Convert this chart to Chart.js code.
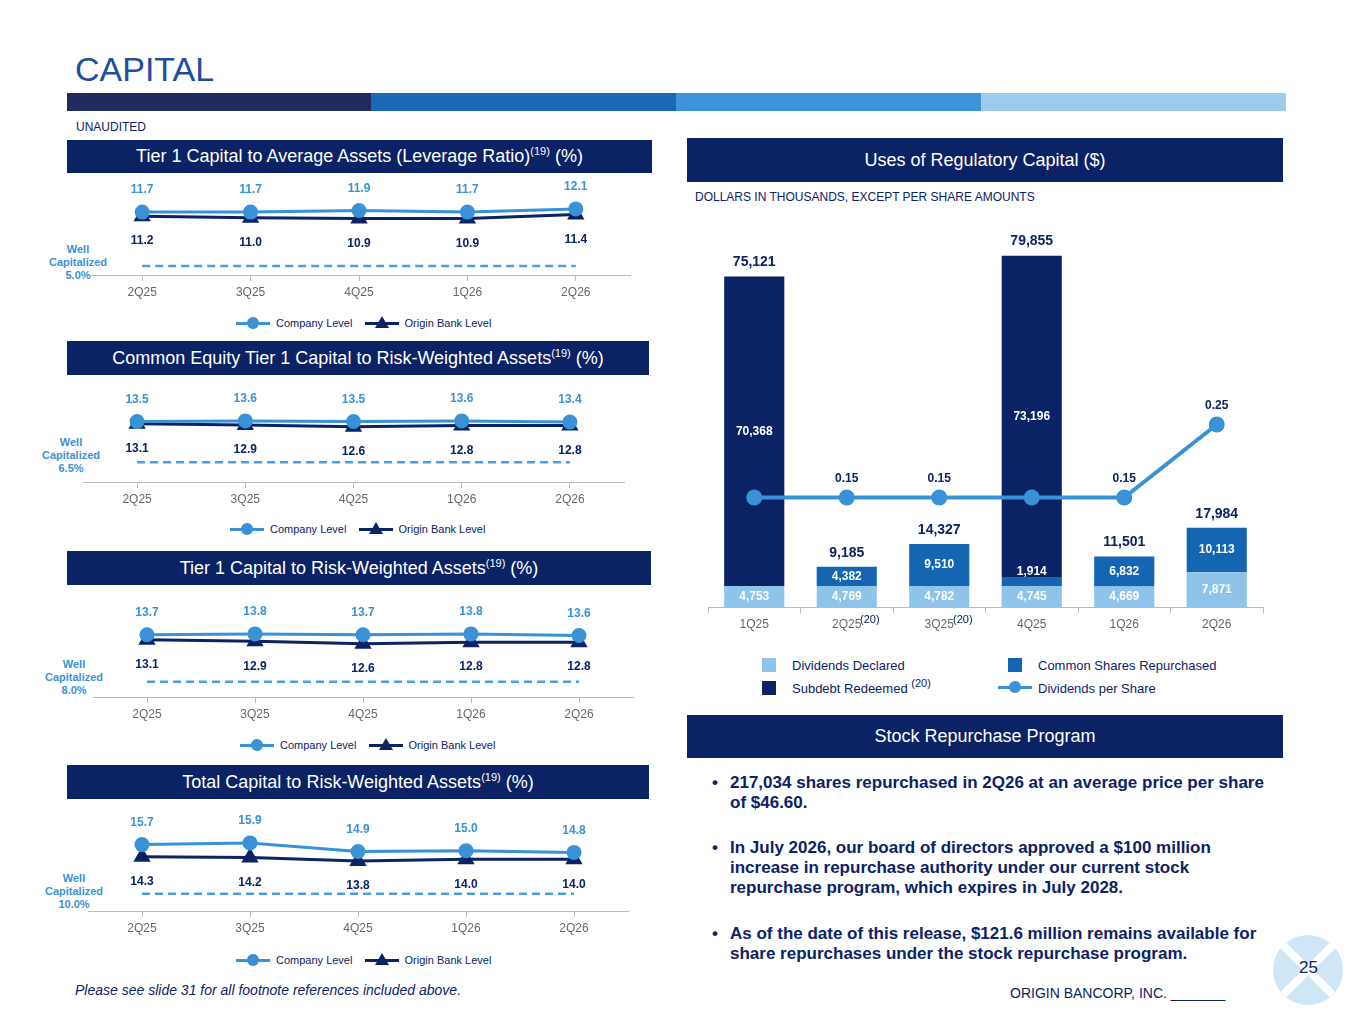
<!DOCTYPE html>
<html><head><meta charset="utf-8">
<script src="https://cdn.jsdelivr.net/npm/chart.js@4/dist/chart.umd.min.js"></script>
<style>
body{margin:0;width:1365px;height:1024px;position:relative;background:#fff;font-family:Arial,"Liberation Sans",sans-serif;overflow:hidden}
.a{position:absolute}
.hdr{position:absolute;background:#0b2265;color:#fff;font-size:18px;display:flex;align-items:center;justify-content:center}
.hdr sup{font-size:11px;vertical-align:super;line-height:0}
.wc{position:absolute;color:#3a92d6;font-weight:bold;font-size:11px;text-align:center;width:70px;line-height:13px}
.leg{position:absolute;font-size:11px;color:#0b2265;display:flex;align-items:center;gap:6px}
.lm{display:inline-block;position:relative;width:34px;height:12px}
.lm:before{content:"";position:absolute;left:0;right:0;top:5px;height:3px;background:var(--c)}
.dot{position:absolute;left:11px;top:0;width:12px;height:12px;border-radius:50%;background:#3a92d6}
.tri{position:absolute;left:10px;top:-1px;width:0;height:0;border-left:7px solid transparent;border-right:7px solid transparent;border-bottom:12px solid #0b2265}
.bul{position:absolute;left:712px;width:620px;color:#0b2265;font-weight:bold;font-size:17px;line-height:20px;white-space:nowrap}
.bul span{position:absolute;left:0}
.bul div{margin-left:18px}
canvas{position:absolute}
</style></head><body>
<div class="a" style="left:75px;top:50px;font-size:34px;color:#1d4f9c">CAPITAL</div>
<div class="a" style="left:67px;top:93px;width:304px;height:18px;background:#232a5e"></div>
<div class="a" style="left:371px;top:93px;width:305px;height:18px;background:#1a69b4"></div>
<div class="a" style="left:676px;top:93px;width:305px;height:18px;background:#3d94d8"></div>
<div class="a" style="left:981px;top:93px;width:305px;height:18px;background:#9ccbec"></div>
<div class="a" style="left:76px;top:120px;font-size:12px;color:#0b2265">UNAUDITED</div>

<div class="hdr" style="left:67px;top:140px;width:585px;height:33px"><span>Tier 1 Capital to Average Assets (Leverage Ratio)<sup>(19)</sup> (%)</span></div>
<div class="hdr" style="left:67px;top:341px;width:582px;height:34px"><span>Common Equity Tier 1 Capital to Risk-Weighted Assets<sup>(19)</sup> (%)</span></div>
<div class="hdr" style="left:67px;top:551px;width:584px;height:34px"><span>Tier 1 Capital to Risk-Weighted Assets<sup>(19)</sup> (%)</span></div>
<div class="hdr" style="left:67px;top:765px;width:582px;height:34px"><span>Total Capital to Risk-Weighted Assets<sup>(19)</sup> (%)</span></div>
<div class="hdr" style="left:687px;top:138px;width:596px;height:44px">Uses of Regulatory Capital ($)</div>
<div class="hdr" style="left:687px;top:715px;width:596px;height:43px">Stock Repurchase Program</div>
<div class="a" style="left:695px;top:190px;font-size:12px;color:#0b2265">DOLLARS IN THOUSANDS, EXCEPT PER SHARE AMOUNTS</div>

<div class="wc" style="left:43px;top:243px">Well<br>Capitalized<br>5.0%</div>
<div class="wc" style="left:36px;top:436px">Well<br>Capitalized<br>6.5%</div>
<div class="wc" style="left:39px;top:658px">Well<br>Capitalized<br>8.0%</div>
<div class="wc" style="left:39px;top:872px">Well<br>Capitalized<br>10.0%</div>

<canvas id="c1"></canvas><canvas id="c2"></canvas><canvas id="c3"></canvas><canvas id="c4"></canvas><canvas id="cb"></canvas>

<div id="legs"></div>
<div class="a" style="left:860px;top:613px;font-size:11px;color:#0b2265">(20)</div>
<div class="a" style="left:953px;top:613px;font-size:11px;color:#0b2265">(20)</div>

<div class="a" style="left:762px;top:658px;width:14px;height:14px;background:#8fc4ea"></div>
<div class="a" style="left:792px;top:658px;font-size:13px;color:#0b2265">Dividends Declared</div>
<div class="a" style="left:762px;top:681px;width:14px;height:14px;background:#0b2265"></div>
<div class="a" style="left:792px;top:681px;font-size:13px;color:#0b2265">Subdebt Redeemed <span style="font-size:11px;position:relative;top:-6px">(20)</span></div>
<div class="a" style="left:1008px;top:658px;width:14px;height:14px;background:#1466b3"></div>
<div class="a" style="left:1038px;top:658px;font-size:13px;color:#0b2265">Common Shares Repurchased</div>
<div class="a" style="left:998px;top:686px;width:34px;height:3px;background:#3a92d6"></div>
<div class="a" style="left:1009px;top:681px;width:12px;height:12px;border-radius:50%;background:#3a92d6"></div>
<div class="a" style="left:1038px;top:681px;font-size:13px;color:#0b2265">Dividends per Share</div>

<div class="bul" style="top:773px"><span>•</span><div>217,034 shares repurchased in 2Q26 at an average price per share<br>of $46.60.</div></div>
<div class="bul" style="top:838px"><span>•</span><div>In July 2026, our board of directors approved a $100 million<br>increase in repurchase authority under our current stock<br>repurchase program, which expires in July 2028.</div></div>
<div class="bul" style="top:924px"><span>•</span><div>As of the date of this release, $121.6 million remains available for<br>share repurchases under the stock repurchase program.</div></div>

<div class="a" style="left:75px;top:982px;font-size:14px;font-style:italic;color:#0b2265">Please see slide 31 for all footnote references included above.</div>
<div class="a" style="left:1010px;top:985px;font-size:14px;color:#0b2265">ORIGIN BANCORP, INC. _______</div>
<div class="a" style="left:1273px;top:935px;width:70px;height:70px;border-radius:50%;background:#cfe6f6;overflow:hidden">
  <div class="a" style="left:-5px;top:31px;width:80px;height:8px;background:#fff;transform:rotate(45deg)"></div>
  <div class="a" style="left:-5px;top:31px;width:80px;height:8px;background:#fff;transform:rotate(-45deg)"></div>
</div>
<div class="a" style="left:1299px;top:958px;font-size:17px;color:#0b2265">25</div>

<script>
const quarters = ["2Q25","3Q25","4Q25","1Q26","2Q26"];
const lev_company = [11.7,11.7,11.9,11.7,12.1];
const lev_bank    = [11.2,11.0,10.9,10.9,11.4];
const cet1_company = [13.5,13.6,13.5,13.6,13.4];
const cet1_bank    = [13.1,12.9,12.6,12.8,12.8];
const t1_company = [13.7,13.8,13.7,13.8,13.6];
const t1_bank    = [13.1,12.9,12.6,12.8,12.8];
const tot_company = [15.7,15.9,14.9,15.0,14.8];
const tot_bank    = [14.3,14.2,13.8,14.0,14.0];
const wellCap = [5.0,6.5,8.0,10.0];

const barQuarters = ["1Q25","2Q25","3Q25","4Q25","1Q26","2Q26"];
const dividendsDeclared = [4753,4769,4782,4745,4669,7871];
const sharesRepurchased = [0,4382,9510,1914,6832,10113];
const subdebtRedeemed = [70368,0,0,73196,0,0];
const totals = [75121,9185,14327,79855,11501,17984];
const dps = [0.15,0.15,0.15,0.15,0.15,0.25];

const LB="#3a92d6", NV="#0b2265";
const fmt = v=>v.toLocaleString('en-US');

function lineChart(id, comp, bank, wc, p){
  const c=document.getElementById(id);
  const h=p.axis-p.top+26;
  c.style.left=p.l+'px'; c.style.top=p.top+'px';
  c.width=p.w; c.height=h; c.style.width=p.w+'px'; c.style.height=h+'px';
  const min = wc-(p.axis-p.dash)/p.ppu, max=min+(p.axis-p.top)/p.ppu;
  new Chart(c,{type:'line',data:{labels:quarters,datasets:[
    {data:comp,borderColor:LB,backgroundColor:LB,borderWidth:3,pointRadius:6,pointHoverRadius:6,lbl:'above'},
    {data:bank,borderColor:NV,backgroundColor:NV,borderWidth:3,pointStyle:'triangle',pointRadius:7,lbl:'below'},
    {data:quarters.map(()=>wc),borderColor:'#4a9fe2',borderDash:[8,5],borderWidth:2.5,pointRadius:0}
  ]},options:{responsive:false,animation:false,layout:{padding:{left:p.pl,right:p.pr,top:0,bottom:0}},
    plugins:{legend:{display:false},tooltip:{enabled:false}},
    scales:{y:{display:false,min,max},x:{offset:true,afterFit:s=>{s.height=26},
      grid:{drawOnChartArea:false,tickLength:6,color:'#bbb'},border:{color:'#bbb'},
      ticks:{color:'#666',font:{size:12},padding:4}}}},
    plugins:[{afterDatasetsDraw(ch){const ctx=ch.ctx;ctx.save();ctx.font='bold 12px Arial';ctx.textAlign='center';ctx.textBaseline='middle';
      ch.data.datasets.forEach((d,i)=>{if(!d.lbl)return;ch.getDatasetMeta(i).data.forEach((pt,j)=>{
        ctx.fillStyle=d.lbl==='above'?LB:NV;
        ctx.fillText(d.data[j].toFixed(1),pt.x,pt.y+(d.lbl==='above'?-22:25));});});ctx.restore();}}]});
}
lineChart('c1',lev_company,lev_bank,wellCap[0],{l:67,w:585,top:180,axis:275,dash:265,ppu:9,pl:21,pr:22});
lineChart('c2',cet1_company,cet1_bank,wellCap[1],{l:67,w:582,top:385,axis:482,dash:460,ppu:6.5,pl:16,pr:25});
lineChart('c3',t1_company,t1_bank,wellCap[2],{l:67,w:584,top:600,axis:697,dash:680,ppu:9.2,pl:26,pr:18});
lineChart('c4',tot_company,tot_bank,wellCap[3],{l:67,w:582,top:803,axis:911,dash:892,ppu:9.5,pl:21,pr:21});

let lg='';
[[324,236],[530,230],[746,240],[961,236]].forEach(([y,x])=>{
  lg+=`<div class="leg" style="left:${x}px;top:${y-7}px"><span class="lm" style="--c:${LB}"><i class="dot"></i></span>Company Level&nbsp;&nbsp;<span class="lm" style="--c:${NV}"><i class="tri"></i></span>Origin Bank Level</div>`;});
document.getElementById('legs').innerHTML=lg;

(function(){
  const c=document.getElementById('cb');const top=230,axis=607,w=596,h=axis-top+26;
  c.style.left='687px';c.style.top=top+'px';c.width=w;c.height=h;c.style.width=w+'px';c.style.height=h+'px';
  const ph=axis-top;
  new Chart(c,{type:'bar',data:{labels:barQuarters,datasets:[
    {type:'line',data:dps,yAxisID:'y2',borderColor:LB,backgroundColor:LB,borderWidth:4,pointRadius:6,order:0,dps:true},
    {data:dividendsDeclared,backgroundColor:'#8fc4ea',stack:'s',order:1,barPercentage:0.65,categoryPercentage:1},
    {data:sharesRepurchased,backgroundColor:'#1466b3',stack:'s',order:1,barPercentage:0.65,categoryPercentage:1},
    {data:subdebtRedeemed,backgroundColor:NV,stack:'s',order:1,barPercentage:0.65,categoryPercentage:1}
  ]},options:{responsive:false,animation:false,layout:{padding:{left:21,right:20,top:0,bottom:0}},
    plugins:{legend:{display:false},tooltip:{enabled:false}},
    scales:{y:{display:false,stacked:true,min:0,max:ph/4.52*1000},
      y2:{display:false,min:0,max:ph/750},
      x:{stacked:true,afterFit:s=>{s.height=26},grid:{drawOnChartArea:false,tickLength:6,color:'#bbb'},border:{color:'#bbb'},ticks:{color:'#666',font:{size:12},padding:4}}}},
    plugins:[{afterDatasetsDraw(ch){const ctx=ch.ctx;ctx.save();ctx.textAlign='center';ctx.textBaseline='middle';
      for(let i=1;i<=3;i++){ch.getDatasetMeta(i).data.forEach((b,j)=>{const v=ch.data.datasets[i].data[j];if(!v)return;
        const small=Math.abs(b.base-b.y)<14;
        ctx.font='bold 12px Arial';ctx.fillStyle='#fff';ctx.fillText(fmt(v),b.x,small?b.y-6:(b.y+b.base)/2);});}
      const top3=ch.getDatasetMeta(1).data.map((b,j)=>Math.min(b.y,ch.getDatasetMeta(2).data[j].y,ch.getDatasetMeta(3).data[j].y));
      ctx.font='bold 14px Arial';ctx.fillStyle=NV;
      ch.getDatasetMeta(1).data.forEach((b,j)=>ctx.fillText(fmt(totals[j]),b.x,top3[j]-14));
      ctx.font='bold 12px Arial';
      ch.getDatasetMeta(0).data.forEach((p,j)=>ctx.fillText(dps[j].toFixed(2),p.x,p.y-19));
      ctx.restore();}}]});
})();
</script>
</body></html>
